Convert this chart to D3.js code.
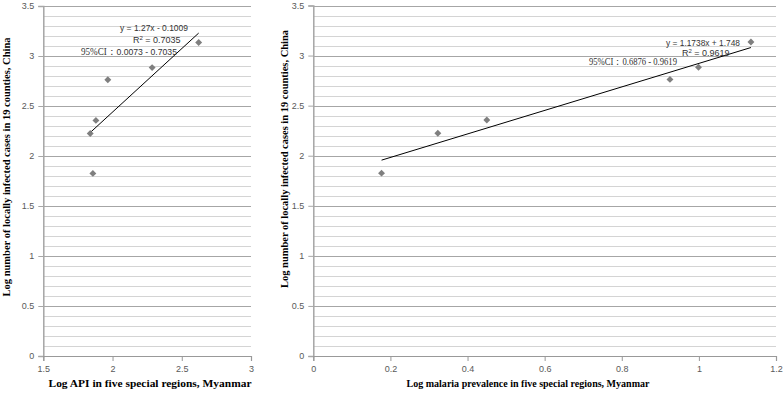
<!DOCTYPE html>
<html>
<head>
<meta charset="utf-8">
<script src="https://cdn.jsdelivr.net/npm/d3@7"></script>
<style>
  body { margin: 0; background: #fff; }
  svg { display: block; }
  .tick text { font-family: "Liberation Sans", Arial, sans-serif; font-size: 9px; fill: #595959; }
  .title { font-family: "Liberation Serif", "Times New Roman", serif; font-size: 11px; font-weight: bold; fill: #000; }
  .eq { font-family: "Liberation Sans", Arial, sans-serif; font-size: 9px; fill: #333; }
  .ci { font-family: "Liberation Serif", "Times New Roman", serif; font-size: 9.5px; fill: #333; }
</style>
</head>
<body>
<svg id="chart" width="784" height="397"></svg>
<script>
// log locally infected cases (y), shared by both panels
const casesLog = [1.826, 2.225, 2.356, 2.762, 2.884, 3.135];
// left panel: log API per region
const apiLog = [1.858, 1.839, 1.880, 1.966, 2.286, 2.622];
// right panel: log malaria prevalence per region
const prevLog = [0.177, 0.323, 0.450, 0.925, 0.999, 1.135];

const apiTicks = [1.5, 2, 2.5, 3];
const prevTicks = [0, 0.2, 0.4, 0.6, 0.8, 1, 1.2];
const yTicks = [0, 0.5, 1, 1.5, 2, 2.5, 3, 3.5];

// trend line fits
const apiFit = { slope: 1.27, intercept: -0.1009, r2: '0.7035', eq: 'y = 1.27x - 0.1009', ci: '0.0073 - 0.7035' };
const prevFit = { slope: 1.1738, intercept: 1.748, r2: '0.9619', eq: 'y = 1.1738x + 1.748', ci: '0.6876 - 0.9619' };

const svg = d3.select('#chart');
const fmt = d3.format('~f');

function panel(opts) {
  const x = d3.scaleLinear().domain(opts.xDomain).range(opts.xRange);
  const y = d3.scaleLinear().domain([0, 3.5]).range([356, opts.yTop]);
  const g = svg.append('g');

  // gridlines every 0.1, darker at every 0.5
  const grid = d3.range(1, 36).map(i => i / 10);
  g.append('g').selectAll('line')
    .data(grid)
    .join('line')
    .attr('x1', x.range()[0])
    .attr('x2', x.range()[1])
    .attr('y1', d => Math.round(y(d)) + 0.5)
    .attr('y2', d => Math.round(y(d)) + 0.5)
    .attr('stroke', (d, i) => ((i + 1) % 5 === 0) ? '#a6a6a6' : '#d4d4d4')
    .attr('stroke-width', 1);

  // y axis
  const yAxis = g.append('g')
    .attr('transform', `translate(${x.range()[0]},0)`)
    .call(d3.axisLeft(y).tickValues(yTicks).tickSize(5).tickPadding(4).tickFormat(fmt));
  yAxis.select('.domain').attr('stroke', '#a6a6a6').attr('stroke-width', 1.5);
  yAxis.selectAll('.tick line').attr('stroke', '#a6a6a6');

  // x axis
  const xAxis = g.append('g')
    .attr('transform', `translate(0,${y(0)})`)
    .call(d3.axisBottom(x).tickValues(opts.xTicks).tickSize(5).tickPadding(5).tickFormat(fmt));
  xAxis.select('.domain').attr('stroke', '#999').attr('stroke-width', 1.2);
  xAxis.selectAll('.tick line').attr('stroke', '#999');

  // trend line over the data range
  const fit = opts.fit;
  const xExt = d3.extent(opts.xs);
  g.append('line')
    .attr('x1', x(xExt[0]))
    .attr('y1', y(fit.slope * xExt[0] + fit.intercept))
    .attr('x2', x(xExt[1]))
    .attr('y2', y(fit.slope * xExt[1] + fit.intercept))
    .attr('stroke', '#000')
    .attr('stroke-width', 1);

  // diamond markers
  const pts = opts.xs.map((v, i) => [v, casesLog[i]]);
  g.append('g').selectAll('path')
    .data(pts)
    .join('path')
    .attr('d', d3.symbol(d3.symbolSquare, 24))
    .attr('transform', d => `translate(${x(d[0])},${y(d[1])}) rotate(45)`)
    .attr('fill', '#7f7f7f');

  // equation labels
  const a = opts.labels;
  g.append('text').attr('class', 'eq')
    .attr('x', a.eq[0]).attr('y', a.eq[1])
    .attr('textLength', a.eq[2]).attr('lengthAdjust', 'spacingAndGlyphs')
    .text(fit.eq);
  const r2 = g.append('text').attr('class', 'eq')
    .attr('x', a.r2[0]).attr('y', a.r2[1]);
  r2.append('tspan').text('R');
  r2.append('tspan').attr('dy', -3).attr('font-size', '6px').text('2');
  r2.append('tspan').attr('dy', 3).text(' = ' + fit.r2);
  const ci = g.append('text').attr('class', 'ci')
    .attr('x', a.ci[0]).attr('y', a.ci[1])
    .attr('textLength', a.ci[2]).attr('lengthAdjust', 'spacingAndGlyphs');
  ci.append('tspan').text('95%CI：');
  ci.append('tspan').attr('class', opts.ciSans ? 'eq' : null).text(fit.ci);

  // axis titles
  g.append('text').attr('class', 'title')
    .attr('x', opts.xTitle[0]).attr('y', 387)
    .attr('text-anchor', 'middle')
    .attr('textLength', opts.xTitle[1]).attr('lengthAdjust', 'spacingAndGlyphs')
    .text(opts.xLabel);
  g.append('text').attr('class', 'title')
    .attr('transform', `translate(${opts.yTitle[0]},${opts.yTitle[1]}) rotate(-90)`)
    .attr('text-anchor', 'middle')
    .attr('textLength', opts.yTitle[2]).attr('lengthAdjust', 'spacingAndGlyphs')
    .text('Log number of locally infected cases in 19 counties, China');
}

panel({
  xDomain: [1.5, 3], xRange: [43.3, 251], yTop: 6,
  xTicks: apiTicks, xs: apiLog, fit: apiFit, ciSans: true,
  labels: { eq: [120, 31, 68], r2: [133, 43], ci: [81, 55, 96] },
  xLabel: 'Log API in five special regions, Myanmar',
  xTitle: [150, 203],
  yTitle: [10, 167, 259]
});

panel({
  xDomain: [0, 1.2], xRange: [313.3, 776], yTop: 5.5,
  xTicks: prevTicks, xs: prevLog, fit: prevFit, ciSans: false,
  labels: { eq: [666, 46, 74], r2: [682, 56], ci: [589, 65, 88] },
  xLabel: 'Log malaria prevalence in five special regions, Myanmar',
  xTitle: [528, 243],
  yTitle: [288, 159, 258]
});
</script>
</body>
</html>
